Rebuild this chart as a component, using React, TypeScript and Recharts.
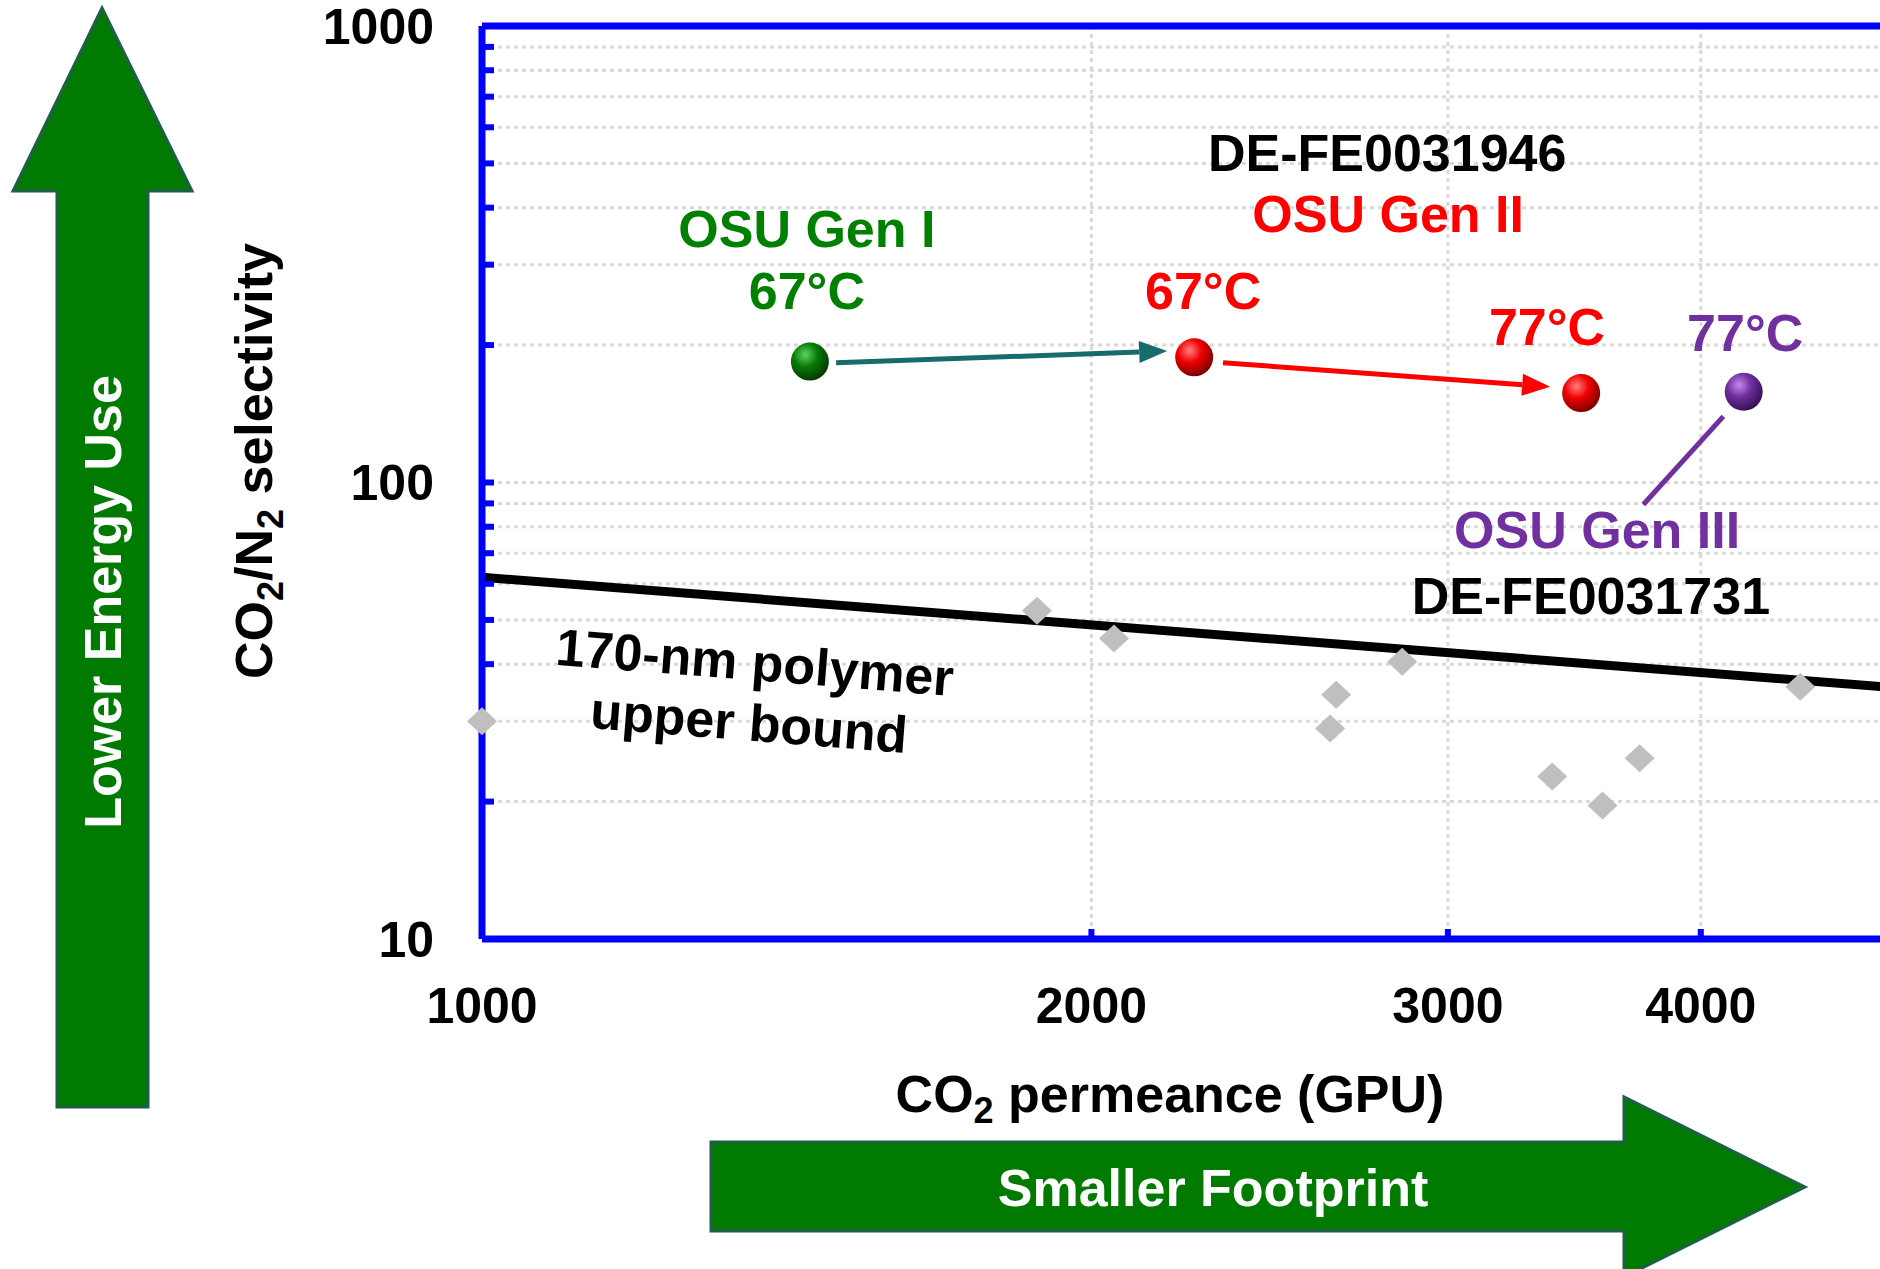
import React from 'react';
import { ScatterChart, Scatter, XAxis, YAxis, CartesianGrid, ReferenceLine, ReferenceDot } from 'recharts';

const FONT = '"Liberation Sans", Arial, Helvetica, sans-serif';
const BLUE = '#0000FF';
const GREEN = '#008000';
const RED = '#FF0000';
const PURPLE = '#7030A0';
const TEAL = '#176B6B';

// OSU membranes: CO2 permeance (GPU) and CO2/N2 selectivity
const genIPerm = [1452];
const genISel = [184];
const genIIPerm = [2248, 3491];
const genIISel = [188, 157];
const genIIIPerm = [4200];
const genIIISel = [158];

// literature membranes (grey diamonds)
const litPerm = [1000, 1880, 2052, 2642, 2624, 2848, 3378, 3577, 3731, 4479];
const litSel = [30, 52.4, 45.5, 34.3, 28.9, 40.5, 22.7, 19.6, 24.9, 35.7];

// 170-nm polymer upper bound, end points
const boundPerm = [1000, 5000];
const boundSel = [62, 35.5];

const xTicks = [1000, 2000, 3000, 4000];
const yTicks = [10, 20, 30, 40, 50, 60, 70, 80, 90, 100, 200, 300, 400, 500, 600, 700, 800, 900, 1000];
const yLabelled = [10, 100, 1000];

const pts = (xs: number[], ys: number[]) => xs.map((x, i) => ({ perm: x, sel: ys[i] }));

// annotation arrows, in data units
const arrows = [
  { from: [1496, 183], to: [2180, 194], color: TEAL, head: true },
  { from: [2323, 183], to: [3370, 162], color: RED, head: true },
  { from: [4104, 139.6], to: [3747, 89.5], color: PURPLE, head: false },
];

const notes = [
  { text: 'OSU Gen I', perm: 1447, sel: 360, color: GREEN, rotate: 0 },
  { text: '67°C', perm: 1447, sel: 264, color: GREEN, rotate: 0 },
  { text: 'DE-FE0031946', perm: 2800, sel: 529, color: '#000', rotate: 0 },
  { text: 'OSU Gen II', perm: 2803, sel: 389, color: RED, rotate: 0 },
  { text: '67°C', perm: 2271, sel: 264, color: RED, rotate: 0 },
  { text: '77°C', perm: 3358, sel: 220, color: RED, rotate: 0 },
  { text: '77°C', perm: 4207, sel: 213, color: PURPLE, rotate: 0 },
  { text: 'OSU Gen III', perm: 3555, sel: 78.9, color: PURPLE, rotate: 0 },
  { text: 'DE-FE0031731', perm: 3530, sel: 56.5, color: '#000', rotate: 0 },
  { text: '170-nm polymer', perm: 1364, sel: 40.5, color: '#000', rotate: 4.5 },
  { text: 'upper bound', perm: 1355, sel: 29.9, color: '#000', rotate: 4.5 },
];

const sphere = (id: string, light: string, base: string, dark: string) => (p: any) => (
  <g>
    <defs>
      <radialGradient id={id} cx="38%" cy="32%" r="70%">
        <stop offset="0%" stopColor={light} />
        <stop offset="45%" stopColor={base} />
        <stop offset="100%" stopColor={dark} />
      </radialGradient>
    </defs>
    <circle cx={p.cx} cy={p.cy} r={19} fill={`url(#${id})`} />
  </g>
);

const diamond = (p: any) => (
  <polygon
    points={`${p.cx - 15},${p.cy} ${p.cx},${p.cy - 14} ${p.cx + 15},${p.cy} ${p.cx},${p.cy + 14}`}
    fill="#BFBFBF"
  />
);

const arrowShape = (color: string, head: boolean) => (p: any) => {
  const { x1, y1, x2, y2 } = p;
  const a = Math.atan2(y2 - y1, x2 - x1);
  const len = head ? 28 : 0;
  const w = 11;
  const bx = x2 - len * Math.cos(a);
  const by = y2 - len * Math.sin(a);
  const nx = -Math.sin(a) * w;
  const ny = Math.cos(a) * w;
  return (
    <g>
      <line x1={x1} y1={y1} x2={bx} y2={by} stroke={color} strokeWidth={5} />
      {head && <polygon points={`${x2},${y2} ${bx + nx},${by + ny} ${bx - nx},${by - ny}`} fill={color} />}
    </g>
  );
};

const noteShape = (n: typeof notes[number]) => (p: any) => (
  <text
    x={p.cx}
    y={p.cy}
    dy="0.36em"
    textAnchor="middle"
    fill={n.color}
    fontSize={52}
    fontWeight={700}
    fontFamily={FONT}
    transform={n.rotate ? `rotate(${n.rotate}, ${p.cx}, ${p.cy})` : undefined}
  >
    {n.text}
  </text>
);

const tickStyle = { fill: '#000', fontSize: 50, fontWeight: 700, fontFamily: FONT };

export default function App() {
  return (
    <div style={{ position: 'fixed', left: 0, top: 0, width: 1880, height: 1269, overflow: 'hidden', background: '#fff' }}>
      <ScatterChart width={1900} height={1269} margin={{ top: 26, right: 3, bottom: 0, left: 0 }}>
        <CartesianGrid horizontal vertical={false} stroke="#D9D9D9" strokeWidth={3} strokeDasharray="4 4" />
        <CartesianGrid horizontal={false} vertical stroke="#D9D9D9" strokeWidth={3} strokeDasharray="4 4" />
        <XAxis
          type="number"
          dataKey="perm"
          scale="log"
          domain={[1000, 5000]}
          ticks={xTicks}
          interval={0}
          height={330}
          tickSize={-10}
          tickMargin={58}
          axisLine={{ stroke: BLUE, strokeWidth: 7 }}
          tickLine={{ stroke: BLUE, strokeWidth: 6 }}
          tick={tickStyle}
        />
        <YAxis
          type="number"
          dataKey="sel"
          scale="log"
          domain={[10, 1000]}
          ticks={yTicks}
          interval={0}
          width={482}
          tickSize={-12}
          tickMargin={60}
          tickFormatter={(v: number) => (yLabelled.includes(v) ? String(v) : '')}
          axisLine={{ stroke: BLUE, strokeWidth: 7 }}
          tickLine={{ stroke: BLUE, strokeWidth: 6 }}
          tick={tickStyle}
        />
        <ReferenceLine y={1000} stroke={BLUE} strokeWidth={7} />
        <ReferenceLine
          segment={[
            { x: boundPerm[0], y: boundSel[0] },
            { x: boundPerm[1], y: boundSel[1] },
          ]}
          stroke="#000"
          strokeWidth={9}
        />
        <Scatter data={pts(litPerm, litSel)} shape={diamond} isAnimationActive={false} />
        {arrows.map((a, i) => (
          <ReferenceLine
            key={`arr-${i}`}
            segment={[
              { x: a.from[0], y: a.from[1] },
              { x: a.to[0], y: a.to[1] },
            ]}
            shape={arrowShape(a.color, a.head)}
          />
        ))}
        <Scatter data={pts(genIPerm, genISel)} shape={sphere('sphG', '#5CD65C', '#0A7A0A', '#033803')} isAnimationActive={false} />
        <Scatter data={pts(genIIPerm, genIISel)} shape={sphere('sphR', '#FF8080', '#F00000', '#7A0000')} isAnimationActive={false} />
        <Scatter data={pts(genIIIPerm, genIIISel)} shape={sphere('sphP', '#C58AF0', '#7030A0', '#331050')} isAnimationActive={false} />
        {notes.map((n, i) => (
          <ReferenceDot key={`note-${i}`} x={n.perm} y={n.sel} r={0} shape={noteShape(n)} />
        ))}
      </ScatterChart>

      <svg width={1880} height={1269} style={{ position: 'absolute', left: 0, top: 0, pointerEvents: 'none' }}>
        <polygon
          points="102,8 192,191 148,191 148,1107 57,1107 57,191 13,191"
          fill="#007A00"
          stroke="#1F5F45"
          strokeWidth={3}
        />
        <text
          transform="translate(121,602) rotate(-90)"
          textAnchor="middle"
          fill="#fff"
          fontSize={52}
          fontWeight={700}
          fontFamily={FONT}
        >
          Lower Energy Use
        </text>
        <polygon
          points="711,1142 1624,1142 1624,1097 1805,1187 1624,1277 1624,1231 711,1231"
          fill="#007A00"
          stroke="#1F5F45"
          strokeWidth={3}
        />
        <text x={1213} y={1206} textAnchor="middle" fill="#fff" fontSize={52} fontWeight={700} fontFamily={FONT}>
          Smaller Footprint
        </text>
        <text
          transform="translate(272,461) rotate(-90)"
          textAnchor="middle"
          fill="#000"
          fontSize={52}
          fontWeight={700}
          fontFamily={FONT}
        >
          CO<tspan dy={11} fontSize={36}>2</tspan>
          <tspan dy={-11}>/N</tspan>
          <tspan dy={11} fontSize={36}>2</tspan>
          <tspan dy={-11}> selectivity</tspan>
        </text>
        <text x={1170} y={1112} textAnchor="middle" fill="#000" fontSize={52} fontWeight={700} fontFamily={FONT}>
          CO<tspan dy={11} fontSize={36}>2</tspan>
          <tspan dy={-11}> permeance (GPU)</tspan>
        </text>
      </svg>
    </div>
  );
}
